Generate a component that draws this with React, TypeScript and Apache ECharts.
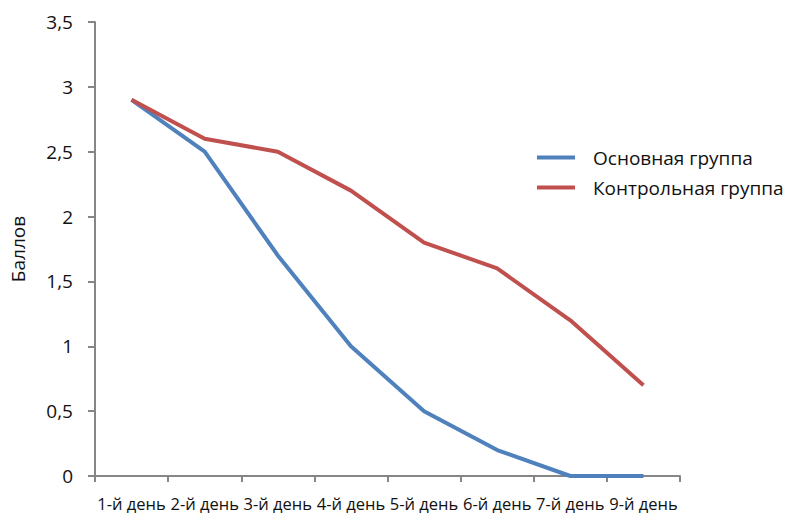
import React, { useEffect, useRef } from "react";
import * as echarts from "echarts";

const categories = ["1-й день", "2-й день", "3-й день", "4-й день", "5-й день", "6-й день", "7-й день", "9-й день"];
const mainGroup = [2.9, 2.5, 1.7, 1.0, 0.5, 0.2, 0, 0];
const controlGroup = [2.9, 2.6, 2.5, 2.2, 1.8, 1.6, 1.2, 0.7];
const seriesNames = ["Основная группа", "Контрольная группа"];
const yAxisName = "Баллов";

const FONT = "'Open Sans', 'Noto Sans', sans-serif";

export default function App() {
  const ref = useRef<HTMLDivElement>(null);
  useEffect(() => {
    if (!ref.current) return;
    const chart = echarts.init(ref.current, undefined, { renderer: "svg" });
    chart.setOption({
      animation: false,
      backgroundColor: "#ffffff",
      textStyle: { fontFamily: FONT },
      grid: { left: 95, top: 22, right: 106, bottom: 39, containLabel: false },
      legend: {
        orient: "vertical",
        left: 532,
        top: 143,
        itemWidth: 38,
        itemHeight: 4,
        itemGap: 11,
        icon: "rect",
        textStyle: { fontSize: 19, color: "#111", fontFamily: FONT, padding: [0, 0, 0, 13] },
        data: seriesNames,
      },
      xAxis: {
        type: "category",
        data: categories,
        boundaryGap: true,
        axisLine: { lineStyle: { color: "#868686", width: 2 } },
        axisTick: { show: true, length: 6, lineStyle: { color: "#868686", width: 2 } },
        axisLabel: { color: "#111", fontSize: 16.5, margin: 19, interval: 0, fontFamily: FONT },
      },
      yAxis: {
        type: "value",
        min: 0,
        max: 3.5,
        interval: 0.5,
        name: yAxisName,
        nameLocation: "middle",
        nameGap: 68,
        nameRotate: 90,
        nameTextStyle: { color: "#111", fontSize: 19, fontFamily: FONT },
        axisLine: { show: true, lineStyle: { color: "#868686", width: 2 } },
        axisTick: { show: true, length: 7, lineStyle: { color: "#868686", width: 2 } },
        splitLine: { show: false },
        axisLabel: {
          color: "#111",
          fontSize: 19,
          margin: 22,
          fontFamily: FONT,
          formatter: (v: number) => String(v).replace(".", ","),
        },
      },
      series: [
        {
          name: seriesNames[0],
          type: "line",
          data: mainGroup,
          symbol: "none",
          lineStyle: { color: "#4F81BD", width: 4 },
          itemStyle: { color: "#4F81BD" },
        },
        {
          name: seriesNames[1],
          type: "line",
          data: controlGroup,
          symbol: "none",
          lineStyle: { color: "#C0504D", width: 4 },
          itemStyle: { color: "#C0504D" },
        },
      ],
    });
    return () => chart.dispose();
  }, []);
  return <div ref={ref} style={{ width: 786, height: 515, position: "absolute", left: 0, top: 0 }} />;
}
